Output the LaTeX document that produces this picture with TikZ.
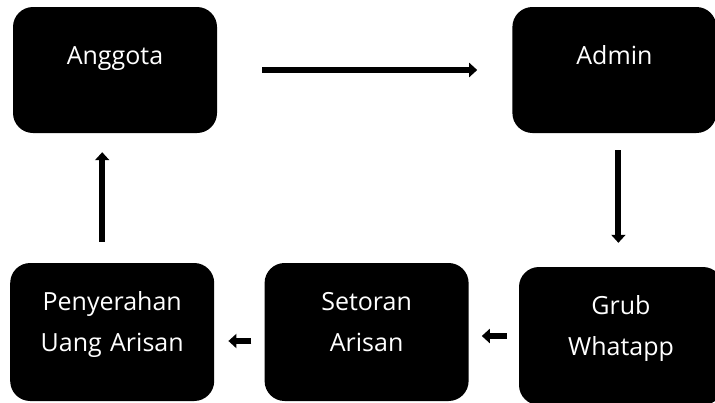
\documentclass[tikz,border=0pt]{standalone}
\usepackage{fontspec}
\setmainfont{Open Sans}
\usepackage{tikz}
\usetikzlibrary{positioning}
\usetikzlibrary{arrows.meta}
\tikzset{
    alur arisan/.style={
            x=1pt,y=-1pt,
            kotak/.style={fill=black,text=white,rounded corners=20pt,inner sep=0pt,
                    minimum width=204pt,text width=190pt,align=center,
                    font=\fontsize{25pt}{41pt}\selectfont,
                    text height=18pt,text depth=30pt},
            duabaris/.style={text depth=62pt},
            panah/.style={-{Triangle[length=8pt,width=14pt]},line width=6pt}
        }
    }

\begin{document}
\begin{tikzpicture}[alur arisan]
    \useasboundingbox (0,0) rectangle (715,402);
    \node [kotak,minimum height=126pt] (anggota) at (115,70) {Anggota};
    \node [kotak,minimum height=126pt] (admin) [right=295pt of anggota] {Admin};
    \node [kotak,duabaris,minimum height=138pt] (grub) at (621,336) {Grub\\Whatapp};
    \node [kotak,duabaris,minimum height=138pt] (setoran) [left=50pt of grub,yshift=4pt] {Setoran\\Arisan};
    \node [kotak,duabaris,minimum height=138pt] (penyerahan) [left=50pt of setoran] {Penyerahan\\Uang Arisan};
    \draw [panah,shorten <=45pt,shorten >=35pt] (anggota) -- (admin);
    \draw [panah,shorten <=17pt,shorten >=24pt] ([xshift=4pt]admin.south) -- ([xshift=4pt]admin.south |- grub.north);
    \draw [panah,shorten <=12pt,shorten >=13pt] (grub.west) -- (grub.west -| setoran.east);
    \draw [panah,shorten <=13pt,shorten >=14pt] ([yshift=-9pt]setoran.west) -- ([yshift=-9pt]setoran.west -| penyerahan.east);
    \draw [panah,shorten <=21pt,shorten >=19pt] ([xshift=-10pt]penyerahan.north) -- ([xshift=-10pt]penyerahan.north |- anggota.south);
\end{tikzpicture}
\end{document}
